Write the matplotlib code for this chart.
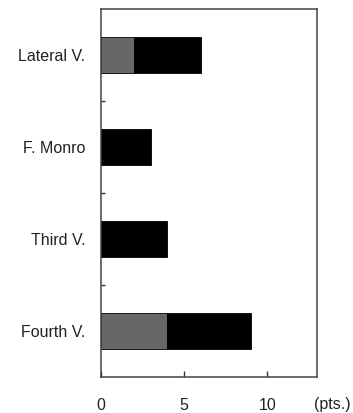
import numpy as np
import matplotlib
matplotlib.use("Agg")
import matplotlib.pyplot as plt

# data
categories = ["Lateral V.", "F. Monro", "Third V.", "Fourth V."]
gray_vals = [2, 0, 0, 4]
black_vals = [4, 3, 4, 5]
xticks = [0, 5, 10]

plt.rcParams['font.family'] = ['Liberation Sans', 'DejaVu Sans']
fs = 11.5

fig = plt.figure(figsize=(3.53, 4.13), dpi=100)
ax = fig.add_axes([0.285, 0.0872, 0.612, 0.891])

y = np.arange(len(categories))
ax.barh(y, gray_vals, height=0.4, color='#676767', edgecolor='black', linewidth=0.6)
ax.barh(y, black_vals, left=gray_vals, height=0.4, color='black', edgecolor='black', linewidth=0.6)

ax.set_xlim(0, 12.95)
ax.set_ylim(len(categories) - 0.5, -0.5)

ax.set_yticks(y)
ax.set_yticklabels(categories, fontsize=fs, color='#222222')
ax.tick_params(axis='y', which='major', length=0, pad=11)
ax.set_yticks(y[:-1] + 0.5, minor=True)
ax.tick_params(axis='y', which='minor', direction='in', length=3, width=1, color='#333333')

ax.set_xticks(xticks)
ax.set_xticklabels([str(v) for v in xticks], fontsize=fs, color='#222222')
ax.tick_params(axis='x', direction='in', length=4, width=1, color='#333333', pad=15)

for s in ax.spines.values():
    s.set_color('#444444')
    s.set_linewidth(1.1)

# unit label sits level with the x tick labels, right of the axes
fig.text(0.942, 1 - 405 / 413, "(pts.)", fontsize=fs, color='#222222',
         ha='center', va='center')

fig.savefig("out.png", dpi=100)
